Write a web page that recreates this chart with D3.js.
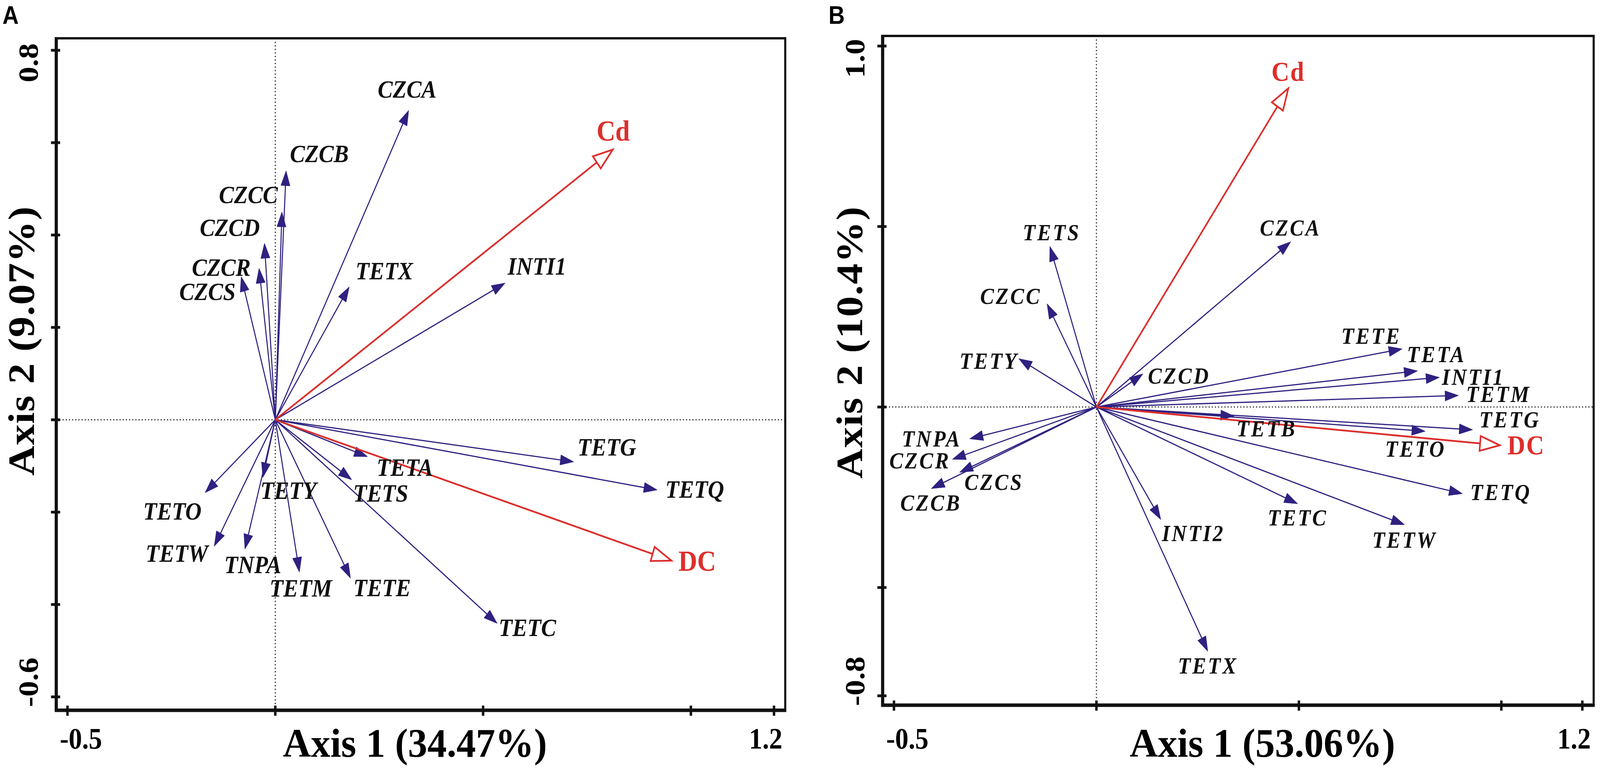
<!DOCTYPE html>
<html><head><meta charset="utf-8">
<script src="https://cdn.jsdelivr.net/npm/d3@7"></script>
<style>html,body{margin:0;padding:0;background:#fff;width:100%;height:100%;overflow:hidden;}svg{display:block;width:100vw;height:100vh;}</style>
</head><body>
<svg id="chart" viewBox="0 0 4550 1976" preserveAspectRatio="none"></svg>
<script>
// ---------------- DATA ----------------
// Panel A
const genesA  = ["CZCA","CZCB","CZCC","CZCD","CZCR","CZCS","TETX","INTI1","TETG","TETQ","TETC","TETA","TETS","TETE","TETM","TNPA","TETY","TETW","TETO"];
const genesAx = [0.321,0.026,0.016,-0.026,-0.039,-0.082,0.178,0.553,0.718,0.919,0.534,0.222,0.184,0.181,0.058,-0.073,-0.030,-0.147,-0.169];
const genesAy = [0.670,0.539,0.450,0.382,0.328,0.310,0.288,0.296,-0.091,-0.152,-0.441,-0.080,-0.130,-0.343,-0.330,-0.280,-0.125,-0.274,-0.158];
const envA  = ["Cd","DC"];
const envAx = [0.812,0.953];
const envAy = [0.585,-0.305];
const xTicksA = [-0.5,0,0.5,1.0,1.2];
const yTicksA = [0.8,0.6,0.4,0.2,0,-0.2,-0.4,-0.6];
const xTickLabelsA = ["-0.5","1.2"];
const yTickLabelsA = ["0.8","-0.6"];
const xTitleA = "Axis 1 (34.47%)";
const yTitleA = "Axis 2 (9.07%)";

// Panel B
const genesB  = ["TETS","CZCC","TETY","CZCD","CZCA","TETE","TETA","INTI1","TETM","TETG","TETO","TETB","TETQ","TETC","TETW","TETX","INTI2","TNPA","CZCR","CZCS","CZCB"];
const genesBx = [-0.115,-0.122,-0.192,0.115,0.480,0.755,0.793,0.847,0.894,0.929,0.812,0.340,0.904,0.497,0.761,0.275,0.159,-0.313,-0.356,-0.338,-0.408];
const genesBy = [0.445,0.286,0.134,0.092,0.458,0.161,0.100,0.082,0.032,-0.063,-0.067,-0.025,-0.240,-0.268,-0.326,-0.677,-0.312,-0.088,-0.145,-0.181,-0.226];
const envB  = ["Cd","DC"];
const envBx = [0.474,0.996];
const envBy = [0.883,-0.106];
const xTicksB = [-0.5,0,0.5,1.0,1.2];
const yTicksB = [1.0,0.5,0,-0.5,-0.8];
const xTickLabelsB = ["-0.5","1.2"];
const yTickLabelsB = ["1.0","-0.8"];
const xTitleB = "Axis 1 (53.06%)";
const yTitleB = "Axis 2 (10.4%)";

// ---------------- LAYOUT (pixels) ----------------
const layoutA = {
  letter:"A", letterX:7,
  frame:{l:160,r:2233,t:98,b:1818},
  xDomain:[-0.527,1.227], yDomain:[-0.629,0.826],
  labelFont:64, labelSpacing:0, envFont:74, envSpacing:0,
  xTitleLen:751, yTitleLen:689, xTitleX:1180, yTitleY:873, yTitleX:97,
  geneOffsets:[[-88,-32],[11,-22],[-179,-22],[-184,-19],[-191,19],[-176,60],[18,-19],[7,-22],[11,-16],[23,20],[4,32],[26,49],[4,56],[8,46],[-85,62],[-59,62],[-7,55],[-195,40],[-176,69]],
  envOffsets:[[-46,-23],[20,26]]
};
const layoutB = {
  letter:"B", letterX:2356,
  frame:{l:2510,r:4532,t:92,b:1805},
  xDomain:[-0.528,1.228], yDomain:[-0.826,1.028],
  labelFont:59, labelSpacing:5, envFont:70, envSpacing:3,
  xTitleLen:755, yTitleLen:696, xTitleX:3590, yTitleY:877, yTitleX:2452,
  geneOffsets:[[-77,-16],[-190,0],[-168,26],[14,25],[-88,-16],[-173,-13],[-30,-22],[7,19],[22,17],[19,-6],[-114,65],[7,52],[22,16],[-85,56],[-92,59],[-85,57],[3,55],[-193,20],[-179,23],[14,45],[-88,56]],
  envOffsets:[[-48,-19],[22,23]]
};

const BLUE = "#2e2180";
const RED  = "#dc2f2c";
const SERIF = "'Liberation Serif','Times New Roman',Times,serif";
const SANS = "'Liberation Sans',Arial,Helvetica,sans-serif";

const svg = d3.select("#chart");
svg.append("rect").attr("width",4550).attr("height",1976).attr("fill","#ffffff");

function arrow(g, x0, y0, x1, y1, color, headLen, headW, lineW, open) {
  const dx = x1-x0, dy = y1-y0, L = Math.hypot(dx,dy), ux = dx/L, uy = dy/L;
  const bx = x1-ux*headLen, by = y1-uy*headLen;
  const ex = open ? bx : x1-ux*headLen*0.5, ey = open ? by : y1-uy*headLen*0.5;
  g.append("line").attr("x1",x0).attr("y1",y0).attr("x2",ex).attr("y2",ey)
    .attr("stroke",color).attr("stroke-width",lineW);
  const hw = headW/2;
  const pts = [[x1,y1],[bx-uy*hw,by+ux*hw],[bx+uy*hw,by-ux*hw]];
  g.append("polygon").attr("points",pts.map(p=>p.join(",")).join(" "))
    .attr("fill", open ? "#ffffff" : color)
    .attr("stroke", color).attr("stroke-width", open ? lineW : 1)
    .attr("stroke-linejoin","miter");
}

function panel(lay, genes, gx, gy, env, ex, ey, xTicks, yTicks, xTL, yTL, xTitle, yTitle) {
  const f = lay.frame;
  const x = d3.scaleLinear().domain(lay.xDomain).range([f.l, f.r]);
  const y = d3.scaleLinear().domain(lay.yDomain).range([f.b, f.t]);
  const g = svg.append("g");

  // dotted zero lines
  g.append("line").attr("x1",x(0)).attr("x2",x(0)).attr("y1",f.t).attr("y2",f.b)
    .attr("stroke","#222").attr("stroke-width",3).attr("stroke-dasharray","3,6");
  g.append("line").attr("x1",f.l).attr("x2",f.r).attr("y1",y(0)).attr("y2",y(0))
    .attr("stroke","#222").attr("stroke-width",3).attr("stroke-dasharray","3,6");

  // frame
  g.append("line").attr("x1",f.l).attr("x2",f.r).attr("y1",f.t).attr("y2",f.t).attr("stroke","#111").attr("stroke-width",6);
  g.append("line").attr("x1",f.r).attr("x2",f.r).attr("y1",f.t-3).attr("y2",f.b).attr("stroke","#111").attr("stroke-width",6);
  g.append("line").attr("x1",f.l).attr("x2",f.l).attr("y1",f.t-3).attr("y2",f.b+4).attr("stroke","#111").attr("stroke-width",9);
  g.append("line").attr("x1",f.l-4).attr("x2",f.r+3).attr("y1",f.b).attr("y2",f.b).attr("stroke","#111").attr("stroke-width",9);

  // ticks
  g.selectAll(".xt").data(xTicks).enter().append("line")
    .attr("x1",d=>x(d)).attr("x2",d=>x(d)).attr("y1",f.b-12).attr("y2",f.b+14)
    .attr("stroke","#111").attr("stroke-width",7);
  g.selectAll(".yt").data(yTicks).enter().append("line")
    .attr("y1",d=>y(d)).attr("y2",d=>y(d)).attr("x1",f.l-15).attr("x2",f.l+11)
    .attr("stroke","#111").attr("stroke-width",7);

  // tick labels (ends only)
  const xmin = xTicks[0], xmax = xTicks[xTicks.length-1];
  g.append("text").attr("x",x(xmin)-22).attr("y",1916).attr("text-anchor","start")
    .attr("font-family",SERIF).attr("font-weight","bold").attr("font-size",76).text(xTL[0]);
  g.append("text").attr("x",x(xmax)+24).attr("y",1916).attr("text-anchor","end")
    .attr("font-family",SERIF).attr("font-weight","bold").attr("font-size",76).text(xTL[1]);
  const ymax = yTicks[0], ymin = yTicks[yTicks.length-1];
  const tx = f.l-52;
  g.append("text").attr("transform",`translate(${tx},${y(ymax)-18}) rotate(-90)`).attr("text-anchor","end")
    .attr("font-family",SERIF).attr("font-weight","bold").attr("font-size",80).text(yTL[0]);
  g.append("text").attr("transform",`translate(${tx},${y(ymin)+26}) rotate(-90)`).attr("text-anchor","start")
    .attr("font-family",SERIF).attr("font-weight","bold").attr("font-size",80).text(yTL[1]);

  // axis titles
  g.append("text").attr("x",lay.xTitleX).attr("y",1937).attr("text-anchor","middle")
    .attr("font-family",SERIF).attr("font-weight","bold").attr("font-size",104)
    .attr("textLength",lay.xTitleLen).attr("lengthAdjust","spacingAndGlyphs").text(xTitle);
  g.append("text").attr("transform",`translate(${lay.yTitleX},${lay.yTitleY}) rotate(-90)`).attr("text-anchor","middle")
    .attr("font-family",SERIF).attr("font-weight","bold").attr("font-size",106)
    .attr("textLength",lay.yTitleLen).attr("lengthAdjust","spacing").text(yTitle);

  // panel letter
  g.append("text").attr("x",lay.letterX).attr("y",61).attr("font-family",SANS).attr("font-weight","bold")
    .attr("font-size",64).text(lay.letter);

  // gene arrows
  const ox = x(0), oy = y(0);
  genes.forEach((name,i)=>{
    arrow(g, ox, oy, x(gx[i]), y(gy[i]), BLUE, 38, 26, 3, false);
  });
  env.forEach((name,i)=>{
    arrow(g, ox, oy, x(ex[i]), y(ey[i]), RED, 56, 38, 4.5, true);
  });
  genes.forEach((name,i)=>{
    const o = lay.geneOffsets[i];
    g.append("text").attr("x",x(gx[i])+o[0]).attr("y",y(gy[i])+o[1])
      .attr("font-family",SERIF).attr("font-weight","bold").attr("font-style","italic")
      .attr("font-size",lay.labelFont).attr("letter-spacing",lay.labelSpacing).attr("fill","#111").text(name);
  });
  env.forEach((name,i)=>{
    const o = lay.envOffsets[i];
    g.append("text").attr("x",x(ex[i])+o[0]).attr("y",y(ey[i])+o[1])
      .attr("font-family",SERIF).attr("font-weight","bold")
      .attr("font-size",lay.envFont).attr("letter-spacing",lay.envSpacing).attr("fill",RED).text(name);
  });
}

panel(layoutA, genesA, genesAx, genesAy, envA, envAx, envAy, xTicksA, yTicksA, xTickLabelsA, yTickLabelsA, xTitleA, yTitleA);
panel(layoutB, genesB, genesBx, genesBy, envB, envBx, envBy, xTicksB, yTicksB, xTickLabelsB, yTickLabelsB, xTitleB, yTitleB);
</script>
</body></html>
